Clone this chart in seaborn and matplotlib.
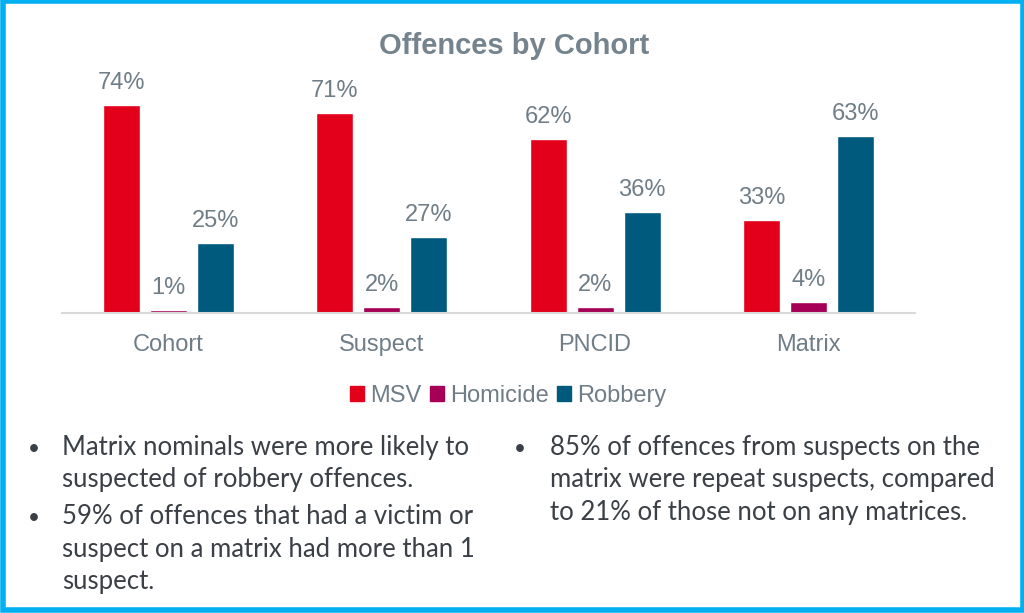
"""Offences by Cohort - grouped bar chart with commentary"""
import pandas as pd
import matplotlib.pyplot as plt
from matplotlib.patches import Rectangle
import seaborn as sns

# data
cohorts = ['Cohort', 'Suspect', 'PNCID', 'Matrix']
offence_types = ['MSV', 'Homicide', 'Robbery']
msv = [74, 71, 62, 33]
homicide = [1, 2, 2, 4]
robbery = [25, 27, 36, 63]
colours = ['#E2001A', '#A50055', '#005A7E']

left_bullets = [
    ['Matrix nominals were more likely to', 'suspected of robbery offences.'],
    ['59% of offences that had a victim or', 'suspect on a matrix had more than 1', 'suspect.'],
]
right_bullets = [
    ['85% of offences from suspects on the', 'matrix were repeat suspects, compared',
     'to 21% of those not on any matrices.'],
]

GREY = '#6F7D87'
TEXT = '#3B4046'

df = pd.DataFrame({
    'cohort': cohorts * 3,
    'offence': [t for t in offence_types for _ in cohorts],
    'pct': msv + homicide + robbery,
})

sns.set_style('white')
plt.rcParams['font.family'] = ['Liberation Sans', 'DejaVu Sans']

W, H = 1024, 613
fig = plt.figure(figsize=(W / 100, H / 100), dpi=100)

# axes placed in pixel terms: baseline at y=313, x from 62 to 915
ax = fig.add_axes([62 / W, (H - 313) / H, (915 - 62) / W, 225 / H])
sns.barplot(data=df, x='cohort', y='pct', hue='offence', order=cohorts,
            hue_order=offence_types, palette=colours, width=0.66, gap=0.21,
            saturation=1, ax=ax, legend=False)
ax.set_ylim(0, 80)
ax.set_xlim(-0.5, 3.5)
ax.set_xlabel('')
ax.set_ylabel('')
ax.set_yticks([])
for side in ['left', 'right', 'top']:
    ax.spines[side].set_visible(False)
ax.spines['bottom'].set_color('#D9D9D9')
ax.spines['bottom'].set_linewidth(1.5)
ax.tick_params(axis='x', length=0, pad=15, labelsize=17, labelcolor=GREY)

for container in ax.containers:
    labels = ax.bar_label(container, fmt='%.0f%%', padding=8, fontsize=17, color=GREY)
    for t in labels:
        t.set_clip_on(False)

fig.text(514 / W, 1 - 46 / H, 'Offences by Cohort', ha='center', va='center',
         fontsize=21, fontweight='bold', color='#74838D')

# legend with square markers
handles = [Rectangle((0, 0), 1, 1, color=c) for c in colours]
fig.legend(handles, offence_types, loc='center', bbox_to_anchor=(508 / W, 1 - 396 / H),
           ncol=3, frameon=False, fontsize=17, labelcolor=GREY,
           handlelength=0.6, handleheight=0.6, handletextpad=0.25, columnspacing=0.35)

# commentary bullets
def draw_bullets(groups, x_dot, x_text, y_start, line_gap, bullet_gap):
    y = y_start
    for lines in groups:
        fig.text(x_dot / W, 1 - y / H, '•', fontsize=15, color=TEXT,
                 ha='left', va='baseline', family='Lato')
        for line in lines:
            fig.text(x_text / W, 1 - y / H, line, fontsize=18.5, color=TEXT,
                     ha='left', va='baseline', family='Lato')
            y += line_gap
        y += bullet_gap


draw_bullets(left_bullets, 28, 62, 455, 32.5, 4)
draw_bullets(right_bullets, 514, 550, 455, 32.5, 4)

# cyan frame round the whole slide
fig.patches.append(Rectangle((3 / W, 1 - 609.5 / H), 1020 / W, 609 / H,
                             transform=fig.transFigure, fill=False,
                             edgecolor='#00B0F0', linewidth=4))

plt.savefig('out.png', dpi=100)
plt.close()
